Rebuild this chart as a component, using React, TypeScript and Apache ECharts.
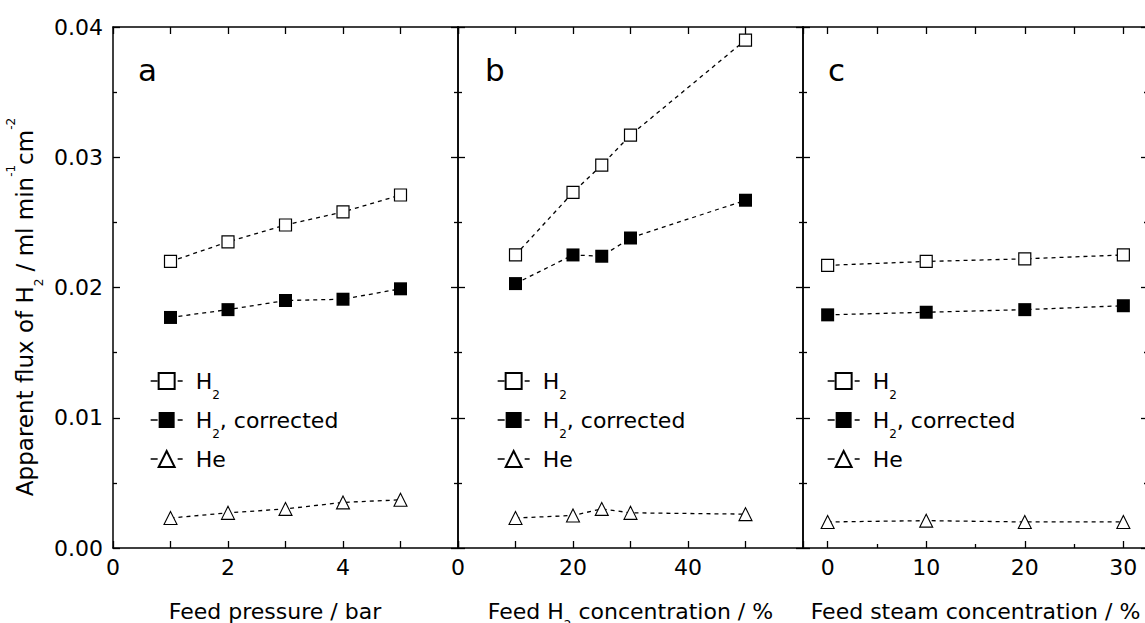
import { useEffect, useRef } from 'react';
import * as echarts from 'echarts';

// ---- data ----
const pressure = [1, 2, 3, 4, 5];
const pressureH2 = [0.0220, 0.0235, 0.0248, 0.0258, 0.0271];
const pressureH2Corr = [0.0177, 0.0183, 0.0190, 0.0191, 0.0199];
const pressureHe = [0.0023, 0.0027, 0.0030, 0.0035, 0.0037];

const h2Conc = [10, 20, 25, 30, 50];
const h2ConcH2 = [0.0225, 0.0273, 0.0294, 0.0317, 0.0390];
const h2ConcH2Corr = [0.0203, 0.0225, 0.0224, 0.0238, 0.0267];
const h2ConcHe = [0.0023, 0.0025, 0.0030, 0.0027, 0.0026];

const steamConc = [0, 10, 20, 30];
const steamH2 = [0.0217, 0.0220, 0.0222, 0.0225];
const steamH2Corr = [0.0179, 0.0181, 0.0183, 0.0186];
const steamHe = [0.0020, 0.0021, 0.0020, 0.0020];

const steamLabelTicks = [0, 10, 20, 30];
const steamTopTicks = [0, 5, 10, 15, 20, 25, 30];
const steamMinorTicks = [5, 15, 25];

const seriesNames = ['H2', 'H2, corrected', 'He'];
const panelLetters = ['a', 'b', 'c'];

const FONT = '"DejaVu Sans", Verdana, sans-serif';

const makeRich = (fs: number): any => ({
  n: { fontFamily: FONT, fontSize: fs, lineHeight: 40, color: '#000' },
  s: { fontFamily: FONT, fontSize: 12, lineHeight: 12, verticalAlign: 'bottom', color: '#000' },
  p: { fontFamily: FONT, fontSize: 12, lineHeight: 20, verticalAlign: 'top', color: '#000' },
});
const rich22 = makeRich(22);
const rich23 = makeRich(23);

const legendFormatter = (name: string) => {
  if (name === 'H2') return '{n|H}{s|2}';
  if (name === 'H2, corrected') return '{n|H}{s|2}{n|, corrected}';
  return '{n|' + name + '}';
};

const AX = { onZero: false, lineStyle: { color: '#000', width: 1.5 } };
const TICK = (len: number, extra: any = {}) => ({ show: true, inside: true, length: len, lineStyle: { color: '#000', width: 1.3 }, ...extra });
const LABEL = { color: '#000', fontFamily: FONT, fontSize: 22 };

function buildOption() {
  const lefts = [113, 458, 803];
  const grids = lefts.map((left) => ({ left, top: 27, width: 345, height: 521, outerBoundsMode: 'none', containLabel: false }));

  const nameStyle = (pad: number[]) => ({ rich: rich22, fontFamily: FONT, fontSize: 22, color: '#000', padding: pad });

  const xAxis: any[] = [
    // panel a bottom
    {
      gridIndex: 0, type: 'value', position: 'bottom', min: 0, max: 6, interval: 2,
      axisLine: AX, axisTick: TICK(7), minorTick: { show: true, splitNumber: 2, length: 7, lineStyle: { color: '#000', width: 1.3 } },
      axisLabel: { ...LABEL, margin: 8, showMaxLabel: false },
      splitLine: { show: false }, minorSplitLine: { show: false },
      name: '{n|Feed pressure / bar}', nameLocation: 'middle', nameGap: 43, nameTextStyle: nameStyle([0, 21, 0, 0]),
    },
    // panel a top
    {
      gridIndex: 0, type: 'value', position: 'top', min: 0, max: 6, interval: 1,
      axisLine: AX, axisTick: TICK(7), axisLabel: { show: false }, splitLine: { show: false },
    },
    // panel b bottom
    {
      gridIndex: 1, type: 'value', position: 'bottom', min: 0, max: 60, interval: 20,
      axisLine: AX, axisTick: TICK(7), minorTick: { show: true, splitNumber: 2, length: 7, lineStyle: { color: '#000', width: 1.3 } },
      axisLabel: { ...LABEL, margin: 8, showMaxLabel: false },
      splitLine: { show: false }, minorSplitLine: { show: false },
      name: '{n|Feed H}{s|2}{n| concentration / %}', nameLocation: 'middle', nameGap: 43, nameTextStyle: nameStyle([0, 0, 0, 0]),
    },
    // panel b top
    {
      gridIndex: 1, type: 'value', position: 'top', min: 0, max: 60, interval: 10,
      axisLine: AX, axisTick: TICK(7), axisLabel: { show: false }, splitLine: { show: false },
    },
    // panel c bottom
    {
      gridIndex: 2, type: 'value', position: 'bottom', min: -2.5, max: 32.5,
      axisLine: AX, axisTick: TICK(7, { customValues: steamLabelTicks }),
      axisLabel: { ...LABEL, margin: 8, customValues: steamLabelTicks },
      splitLine: { show: false },
      name: '{n|Feed steam concentration / %}', nameLocation: 'middle', nameGap: 43, nameTextStyle: nameStyle([0, 0, 0, 0]),
    },
    // panel c top
    {
      gridIndex: 2, type: 'value', position: 'top', min: -2.5, max: 32.5,
      axisLine: AX, axisTick: TICK(7, { customValues: steamTopTicks }),
      axisLabel: { show: false, customValues: steamTopTicks }, splitLine: { show: false },
    },
    // panel c bottom minor ticks
    {
      gridIndex: 2, type: 'value', position: 'bottom', min: -2.5, max: 32.5,
      axisLine: { show: false, onZero: false }, axisTick: TICK(4, { customValues: steamMinorTicks }),
      axisLabel: { show: false, customValues: steamMinorTicks }, splitLine: { show: false },
    },
  ];

  const yAxis: any[] = [];
  for (let i = 0; i < 3; i++) {
    for (const pos of ['left', 'right']) {
      const showLabel = i === 0 && pos === 'left';
      yAxis.push({
        gridIndex: i, type: 'value', position: pos, min: 0, max: 0.04, interval: 0.01,
        axisLine: AX, axisTick: TICK(7),
        minorTick: { show: true, splitNumber: 2, length: 4, lineStyle: { color: '#000', width: 1.3 } },
        axisLabel: showLabel ? { ...LABEL, margin: 10, formatter: (v: number) => v.toFixed(2) } : { show: false },
        splitLine: { show: false }, minorSplitLine: { show: false },
      });
    }
  }

  const styles: any = {
    'H2': { symbol: 'rect', symbolSize: 12, itemStyle: { color: '#fff', borderColor: '#000', borderWidth: 1.2 } },
    'H2, corrected': { symbol: 'rect', symbolSize: 13, itemStyle: { color: '#000', borderColor: '#000', borderWidth: 0 } },
    'He': { symbol: 'triangle', symbolSize: 13, itemStyle: { color: '#fff', borderColor: '#000', borderWidth: 1.1 } },
  };

  const panelData = [
    { xs: pressure, ys: [pressureH2, pressureH2Corr, pressureHe], xi: 0, yi: 0 },
    { xs: h2Conc, ys: [h2ConcH2, h2ConcH2Corr, h2ConcHe], xi: 2, yi: 2 },
    { xs: steamConc, ys: [steamH2, steamH2Corr, steamHe], xi: 4, yi: 4 },
  ];

  const series: any[] = [];
  panelData.forEach((p) => {
    seriesNames.forEach((name, k) => {
      series.push({
        type: 'line', name, xAxisIndex: p.xi, yAxisIndex: p.yi,
        data: p.xs.map((x, j) => [x, p.ys[k][j]]),
        ...styles[name],
        lineStyle: { color: '#000', width: 1.3, type: [4, 4] },
        emphasis: { disabled: true },
        z: 3,
      });
    });
  });

  const legendLefts = [150, 497, 827];
  const legend = legendLefts.map((left) => ({
    orient: 'vertical', left, top: 370, padding: 0, itemGap: 8,
    itemWidth: 32, itemHeight: 20, selectedMode: false,
    data: seriesNames, formatter: legendFormatter,
    lineStyle: { type: [7, 20], width: 1.3 },
    textStyle: { rich: rich22, padding: [0, 0, 0, 8] },
  }));

  const letterX = [138, 485, 828];
  const graphic: any[] = [
    {
      type: 'text', x: 25, y: 307, rotation: Math.PI / 2,
      style: {
        text: '{n|Apparent flux of H}{s|2}{n| / ml min}{p|-1}{n|cm}{p|-2}',
        rich: rich23, align: 'center', verticalAlign: 'middle', fontFamily: FONT, fontSize: 23, fill: '#000',
      },
    },
    ...panelLetters.map((t, i) => ({
      type: 'text', x: letterX[i], y: 70,
      style: { text: t, fontFamily: FONT, fontSize: 31, fill: '#000', align: 'left', verticalAlign: 'middle' },
    })),
  ];

  return {
    animation: false,
    backgroundColor: '#fff',
    grid: grids,
    xAxis, yAxis, series, legend, graphic,
  };
}

export default function App() {
  const ref = useRef<HTMLDivElement>(null);
  useEffect(() => {
    if (!ref.current) return;
    const chart = echarts.init(ref.current, undefined, { renderer: 'svg' });
    chart.setOption(buildOption() as any);
    return () => chart.dispose();
  }, []);
  return <div ref={ref} style={{ position: 'absolute', left: 0, top: 0, width: 1145, height: 623 }} />;
}
